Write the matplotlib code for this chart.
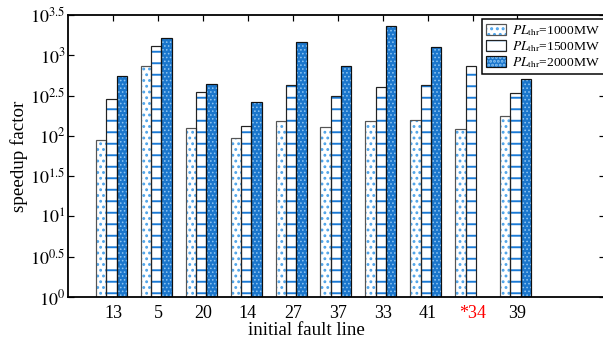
import numpy as np
import matplotlib
matplotlib.use("Agg")
import matplotlib.pyplot as plt
from matplotlib.legend_handler import HandlerTuple

# ---- data ----
categories = ["13", "5", "20", "14", "27", "37", "33", "41", "*34", "39"]
series_names = [r"$PL_{\rm thr}$=1000MW", r"$PL_{\rm thr}$=1500MW", r"$PL_{\rm thr}$=2000MW"]
speedup_1000 = [89, 741, 126, 95, 151, 129, 151, 158, 120, 174]
speedup_1500 = [286, 1288, 347, 132, 427, 316, 407, 427, 741, 339]
speedup_2000 = [557, 1660, 437, 263, 1445, 741, 2291, 1259, np.nan, 501]
ytick_exps = ["0", "0.5", "1", "1.5", "2", "2.5", "3", "3.5"]

DPI = 138
W, H = 603, 347
def px(v):
    return v * 72.0 / DPI

plt.rcParams['font.family'] = ['Liberation Serif', 'DejaVu Serif']
plt.rcParams['mathtext.fontset'] = 'stix'

fig = plt.figure(figsize=(W / DPI, H / DPI), dpi=DPI)
ax = fig.add_axes([68.3 / W, 50 / H, (605 - 68.3) / W, (297 - 15) / H])

x = np.arange(1, len(categories) + 1)
bw = 0.23
off = -0.04
series = [speedup_1000, speedup_1500, speedup_2000]
fills = ['white', 'white', '#1a76cc']
hatches = ['....', '--', '......']
hcolors = ['#4ea4ea', '#1a7ad6', '#8cc4f2']
hlw = [0.9, 1.0, 0.5]
edgec = ['#555555', '#222222', '#111111']

handles = []
for k, vals in enumerate(series):
    pos = x + off + (k - 1) * bw
    b1 = ax.bar(pos, vals, width=bw, color=fills[k], linewidth=0, zorder=2)
    with plt.rc_context({'hatch.linewidth': hlw[k]}):
        b2 = ax.bar(pos, vals, width=bw, fill=False, hatch=hatches[k],
                    edgecolor=hcolors[k], linewidth=0, zorder=3)
    b3 = ax.bar(pos, vals, width=bw, fill=False, edgecolor=edgec[k],
                linewidth=px(1.2), zorder=4)
    handles.append((b1.patches[0], b2.patches[0], b3.patches[0]))

ax.set_yscale('log')
ax.set_ylim(1, 10 ** 3.5)
ax.set_xlim(0, 11.95)

yt = [10 ** float(e) for e in ytick_exps]
ax.set_yticks(yt)
ax.set_yticklabels([r"$10^{%s}$" % e for e in ytick_exps])
ax.yaxis.set_minor_locator(matplotlib.ticker.NullLocator())
ax.set_xticks(x)
ax.set_xticklabels(categories)
for lbl in ax.get_xticklabels():
    if lbl.get_text().startswith('*'):
        lbl.set_color('red')

ax.tick_params(axis='both', direction='in', length=px(6), width=px(1.2),
               top=True, right=True, labelsize=px(18))
ax.tick_params(axis='x', pad=px(8))
ax.tick_params(axis='y', pad=px(3))
for s in ax.spines.values():
    s.set_linewidth(px(1.8))
    s.set_zorder(6)

ax.set_xlabel("initial fault line", fontsize=px(19))
ax.xaxis.set_label_coords((306 - 68.3) / (605 - 68.3), (297 - 322) / 282)
fig.text(19 / W, 1 - 156 / H, "speedup factor", fontsize=px(19), rotation=90,
         ha='center', va='center')

leg = ax.legend(handles, series_names, handler_map={tuple: HandlerTuple(ndivide=1)},
                loc='upper left', bbox_to_anchor=(482 / W, 1 - 19 / H),
                bbox_transform=fig.transFigure, fontsize=px(13.5), frameon=True,
                fancybox=False, edgecolor='black', framealpha=1,
                borderpad=0.3, labelspacing=0.1, handlelength=1.5,
                handleheight=0.8, handletextpad=0.4, borderaxespad=0)
leg.get_frame().set_linewidth(px(1.5))
leg.set_zorder(10)

fig.savefig("out.png", dpi=DPI)
